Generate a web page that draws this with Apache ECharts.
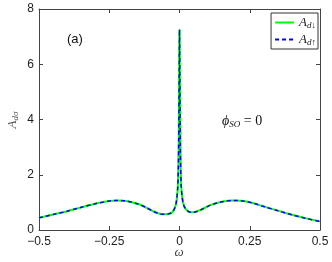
<!DOCTYPE html>
<html><head><meta charset="utf-8">
<script src="https://cdn.jsdelivr.net/npm/echarts@6/dist/echarts.min.js"></script>
<style>html,body{margin:0;padding:0;background:#fff}#c{width:332px;height:262px}</style>
</head><body><div id="c"></div>
<script>
const omega = [-0.5,-0.45,-0.4,-0.35,-0.3,-0.25,-0.22,-0.19,-0.15,-0.12,-0.09,-0.06,-0.04,-0.025,-0.015,-0.01,-0.006,-0.003,-0.001,0,0.001,0.003,0.006,0.01,0.015,0.025,0.04,0.055,0.08,0.11,0.15,0.19,0.22,0.26,0.3,0.35,0.4,0.45,0.5];
const aDown = [0.44,0.56,0.68,0.82,0.95,1.05,1.07,1.05,0.95,0.82,0.66,0.57,0.58,0.65,0.85,1.1,1.6,3.0,5.8,7.25,5.8,3.0,1.6,1.15,0.9,0.72,0.64,0.65,0.75,0.9,1.02,1.07,1.06,0.98,0.85,0.7,0.55,0.42,0.31];
const aUp = [0.44,0.56,0.68,0.82,0.95,1.05,1.07,1.05,0.95,0.82,0.66,0.57,0.58,0.65,0.85,1.1,1.6,3.0,5.8,7.25,5.8,3.0,1.6,1.15,0.9,0.72,0.64,0.65,0.75,0.9,1.02,1.07,1.06,0.98,0.85,0.7,0.55,0.42,0.31];
const xTicks = [-0.5,-0.25,0,0.25,0.5];
const yTicks = [0,2,4,6,8];
const seriesNames = ['A_d↓','A_d↑'];

const chart = echarts.init(document.getElementById('c'));
const axisCol = '#444';
const fmtX = v => { if (Math.abs(v) < 1e-9) return '0'; return (v < 0 ? '\u2212' : '') + String(Math.abs(v)); };
const tickFont = {fontFamily:'Liberation Sans', fontSize:12, color:'#222'};
function mkX(pos, labels){
  return {type:'value', position:pos, min:-0.5, max:0.5, interval:0.25,
    axisLine:{show:true, onZero:false, lineStyle:{color:axisCol,width:1}},
    axisTick:{show:true, inside:true, length:4, lineStyle:{color:axisCol}},
    axisLabel:Object.assign({show:labels, margin:6, formatter:fmtX, showMinLabel:true, showMaxLabel:true}, tickFont),
    splitLine:{show:false}};
}
function mkY(pos, labels){
  return {type:'value', position:pos, min:0, max:8, interval:2,
    axisLine:{show:true, onZero:false, lineStyle:{color:axisCol,width:1}},
    axisTick:{show:true, inside:true, length:4, lineStyle:{color:axisCol}},
    axisLabel:Object.assign({show:labels, margin:5}, tickFont),
    splitLine:{show:false}};
}
const xy = (ys) => omega.map((w,i)=>[w, ys[i]]);
chart.setOption({
  animation:false,
  backgroundColor:'#fff',
  grid:{left:39, right:12, top:9, bottom:32, containLabel:false, outerBoundsMode:'none'},
  xAxis:[mkX('bottom', true), mkX('top', false)],
  yAxis:[mkY('left', true), mkY('right', false)],
  legend:{
    right:14, top:13, orient:'vertical', itemWidth:19, itemHeight:10, itemGap:2,
    backgroundColor:'#fff', borderColor:'#333', borderWidth:1, padding:[2,2,2,3],
    data: seriesNames,
    itemStyle:{opacity:0},
    formatter: n => n === 'A_d↓' ? '{a|A}{s|d↓}' : '{a|A}{s|d↑}',
    textStyle:{rich:{a:{fontFamily:'Liberation Serif', fontStyle:'italic', fontSize:13, lineHeight:13, color:'#222'},
                     s:{fontFamily:'Liberation Serif', fontStyle:'italic', fontSize:9, lineHeight:13, color:'#222', padding:[6,0,0,0]}}}
  },
  graphic:[
    {type:'text', left:67, top:33, style:{text:'(a)', font:'13px Liberation Sans', fill:'#111'}},
    {type:'text', left:222, top:114, style:{rich:{p:{fontFamily:'Liberation Serif', fontStyle:'italic', fontSize:14, fill:'#111'}, s:{fontFamily:'Liberation Serif', fontStyle:'italic', fontSize:9, fill:'#111', padding:[7,0,0,0]}, e:{fontFamily:'Liberation Serif', fontSize:14, fill:'#111'}}, text:'{p|ϕ}{s|SO}{e| = 0}'}},
    {type:'text', x:179, y:253, style:{text:'ω', fontFamily:'Liberation Serif', fontStyle:'italic', fontSize:13, fill:'#444', align:'center', verticalAlign:'middle'}},
    {type:'text', x:13, y:120, rotation:Math.PI/2, style:{rich:{a:{fontFamily:'Liberation Serif', fontStyle:'italic', fontSize:13, fill:'#555'}, s:{fontFamily:'Liberation Serif', fontStyle:'italic', fontSize:9, fill:'#555', padding:[6,0,0,0]}}, text:'{a|A}{s|dσ}', align:'center', verticalAlign:'middle'}}
  ],
  series:[
    {name:'A_d↓', type:'line', data:xy(aDown), showSymbol:false, symbol:'none', smooth:0.3,
     lineStyle:{color:'#00ff00', width:2}, itemStyle:{color:'#00ff00'}, z:2},
    {name:'A_d↑', type:'line', data:xy(aUp), showSymbol:false, symbol:'none', smooth:0.3,
     lineStyle:{color:'#0000ff', width:1.5, type:[4,3]}, itemStyle:{color:'#0000ff'}, z:3}
  ]
});
</script></body></html>
